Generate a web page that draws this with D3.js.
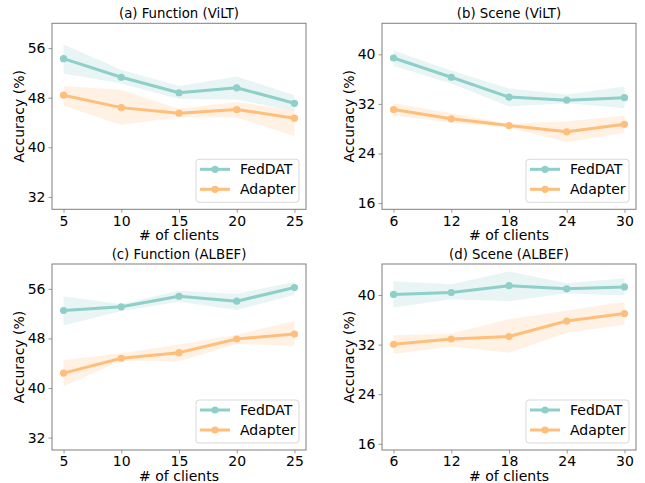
<!DOCTYPE html>
<html><head><meta charset="utf-8">
<script src="https://cdn.jsdelivr.net/npm/d3@7"></script>
<style>body{margin:0;background:#fff;} svg{display:block;font-family:"DejaVu Sans",sans-serif;}</style>
</head><body>
<script>
// ---- data ----
const titles = ["(a) Function (ViLT)", "(b) Scene (ViLT)", "(c) Function (ALBEF)", "(d) Scene (ALBEF)"];
const clientsFunction = [5, 10, 15, 20, 25];
const clientsScene = [6, 12, 18, 24, 30];
const seriesNames = ["FedDAT", "Adapter"];
const yTicksFunction = [32, 40, 48, 56];
const yTicksScene = [16, 24, 32, 40];

const fedFuncVilt = [54.3, 51.3, 48.8, 49.6, 47.1];
const fedFuncViltLo = [51.9, 50.3, 47.8, 47.7, 45.9];
const fedFuncViltHi = [56.6, 52.5, 49.9, 51.4, 48.4];
const adFuncVilt = [48.4, 46.4, 45.5, 46.1, 44.7];
const adFuncViltLo = [46.7, 43.6, 44.9, 44.8, 41.8];
const adFuncViltHi = [49.9, 49.3, 46.2, 47.3, 46.0];

const fedSceneVilt = [39.4, 36.3, 33.1, 32.6, 33.0];
const fedSceneViltLo = [38.1, 35.3, 31.6, 32.1, 31.3];
const fedSceneViltHi = [40.6, 37.4, 34.5, 33.5, 34.8];
const adSceneVilt = [31.1, 29.6, 28.5, 27.5, 28.7];
const adSceneViltLo = [30.1, 29.0, 28.2, 25.8, 27.3];
const adSceneViltHi = [32.1, 30.5, 28.8, 29.2, 30.1];

const fedFuncAlbef = [52.5, 53.1, 54.8, 54.0, 56.2];
const fedFuncAlbefLo = [50.1, 52.4, 53.9, 52.6, 55.0];
const fedFuncAlbefHi = [54.8, 53.5, 55.7, 55.2, 57.1];
const adFuncAlbef = [42.4, 44.8, 45.7, 47.9, 48.7];
const adFuncAlbefLo = [40.3, 44.4, 44.3, 47.1, 46.8];
const adFuncAlbefHi = [44.5, 45.6, 47.0, 48.6, 50.8];

const fedSceneAlbef = [40.1, 40.4, 41.5, 41.0, 41.3];
const fedSceneAlbefLo = [38.0, 39.3, 39.0, 40.3, 39.9];
const fedSceneAlbefHi = [42.2, 41.75, 43.8, 41.9, 42.7];
const adSceneAlbef = [32.05, 32.9, 33.3, 35.8, 37.0];
const adSceneAlbefLo = [30.5, 31.7, 30.7, 33.9, 35.2];
const adSceneAlbefHi = [33.5, 33.8, 36.1, 37.5, 38.9];

const colors = ["#8ECFC9", "#FFBE7A"];

// ---- layout ----
const W = 645, H = 483;
const panels = [
  {x0: 52, x1: 306, y0: 23.3, y1: 209.3, xs: clientsFunction, xd: [4, 26], yd: [30, 60], yt: yTicksFunction,
   s: [[fedFuncVilt, fedFuncViltLo, fedFuncViltHi], [adFuncVilt, adFuncViltLo, adFuncViltHi]]},
  {x0: 382, x1: 636, y0: 23.3, y1: 209.3, xs: clientsScene, xd: [4.8, 31.2], yd: [15, 45], yt: yTicksScene,
   s: [[fedSceneVilt, fedSceneViltLo, fedSceneViltHi], [adSceneVilt, adSceneViltLo, adSceneViltHi]]},
  {x0: 52, x1: 306, y0: 264, y1: 450, xs: clientsFunction, xd: [4, 26], yd: [30, 60], yt: yTicksFunction,
   s: [[fedFuncAlbef, fedFuncAlbefLo, fedFuncAlbefHi], [adFuncAlbef, adFuncAlbefLo, adFuncAlbefHi]]},
  {x0: 382, x1: 636, y0: 264, y1: 450, xs: clientsScene, xd: [4.8, 31.2], yd: [15, 45], yt: yTicksScene,
   s: [[fedSceneAlbef, fedSceneAlbefLo, fedSceneAlbefHi], [adSceneAlbef, adSceneAlbefLo, adSceneAlbefHi]]}
];

const svg = d3.select("body").append("svg").attr("width", W).attr("height", H);
const spineColor = "#7f7f7f";

panels.forEach((p, i) => {
  const x = d3.scaleLinear().domain(p.xd).range([p.x0, p.x1]);
  const y = d3.scaleLinear().domain(p.yd).range([p.y1, p.y0]);
  const g = svg.append("g");

  // bands
  p.s.forEach((ser, k) => {
    const [m, lo, hi] = ser;
    const area = d3.area().x((d, j) => x(p.xs[j])).y0((d, j) => y(lo[j])).y1((d, j) => y(hi[j]));
    g.append("path").attr("d", area(m)).attr("fill", colors[k]).attr("fill-opacity", 0.2).attr("stroke", "none");
  });
  // lines
  p.s.forEach((ser, k) => {
    const m = ser[0];
    const line = d3.line().x((d, j) => x(p.xs[j])).y(d => y(d));
    g.append("path").attr("d", line(m)).attr("fill", "none").attr("stroke", colors[k]).attr("stroke-width", 3).attr("stroke-linejoin", "round");
    g.selectAll(null).data(m).enter().append("circle")
      .attr("cx", (d, j) => x(p.xs[j])).attr("cy", d => y(d)).attr("r", 3.6).attr("fill", colors[k]);
  });

  // axes
  const xa = g.append("g").attr("transform", `translate(0,${p.y1})`)
    .call(d3.axisBottom(x).tickValues(p.xs).tickSize(3.5).tickPadding(3).tickFormat(d3.format("d")));
  const ya = g.append("g").attr("transform", `translate(${p.x0},0)`)
    .call(d3.axisLeft(y).tickValues(p.yt).tickSize(3.5).tickPadding(3).tickFormat(d3.format("d")));
  [xa, ya].forEach(a => {
    a.select(".domain").remove();
    a.selectAll("line").attr("stroke", spineColor).attr("stroke-width", 0.8);
    a.selectAll("text").attr("font-size", 14).attr("fill", "#000").attr("font-family", "DejaVu Sans");
  });
  // spines
  g.append("rect").attr("x", p.x0).attr("y", p.y0).attr("width", p.x1 - p.x0).attr("height", p.y1 - p.y0)
    .attr("fill", "none").attr("stroke", spineColor).attr("stroke-width", 1);

  // title
  g.append("text").attr("x", (p.x0 + p.x1) / 2).attr("y", p.y0 - 5.5).attr("text-anchor", "middle")
    .attr("font-size", 13.3).text(titles[i]);
  // x label
  g.append("text").attr("x", (p.x0 + p.x1) / 2).attr("y", p.y1 + 30.5).attr("text-anchor", "middle")
    .attr("font-size", 14).text("# of clients");
  // y label
  g.append("text").attr("transform", `translate(${p.x0 - 28},${(p.y0 + p.y1) / 2}) rotate(-90)`)
    .attr("text-anchor", "middle").attr("font-size", 14).text("Accuracy (%)");

  // legend
  const lw = 103, lh = 43;
  const lx = p.x1 - 7 - lw, ly = p.y1 - 7 - lh;
  const lg = g.append("g");
  lg.append("rect").attr("x", lx).attr("y", ly).attr("width", lw).attr("height", lh).attr("rx", 3)
    .attr("fill", "#fff").attr("fill-opacity", 0.8).attr("stroke", "#d9d9d9").attr("stroke-width", 1);
  seriesNames.forEach((n, k) => {
    const yy = ly + 10 + k * 20;
    lg.append("line").attr("x1", lx + 4).attr("x2", lx + 34).attr("y1", yy).attr("y2", yy)
      .attr("stroke", colors[k]).attr("stroke-width", 3);
    lg.append("circle").attr("cx", lx + 19).attr("cy", yy).attr("r", 3.6).attr("fill", colors[k]);
    lg.append("text").attr("x", lx + 44).attr("y", yy + 5).attr("font-size", 14).text(n);
  });
});
</script>
</body></html>
